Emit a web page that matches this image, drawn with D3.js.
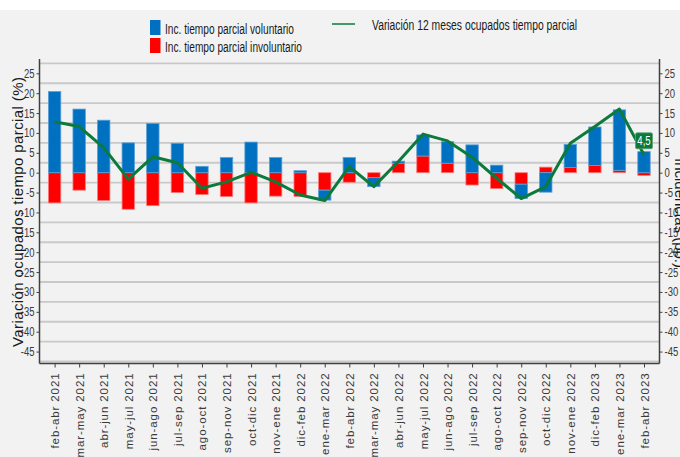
<html>
<head>
<meta charset="utf-8">
<title>Tiempo parcial</title>
<script src="https://d3js.org/d3.v7.min.js"></script>
<style>
  body { margin: 0; background: #ffffff; }
  svg { display: block; font-family: Arial, "Liberation Sans", sans-serif; }
</style>
</head>
<body>
<div id="chart"></div>
<script type="text/javascript">
// data
var categories = ["feb-abr 2021", "mar-may 2021", "abr-jun 2021", "may-jul 2021", "jun-ago 2021",
  "jul-sep 2021", "ago-oct 2021", "sep-nov 2021", "oct-dic 2021", "nov-ene 2021", "dic-feb 2022",
  "ene-mar 2022", "feb-abr 2022", "mar-may 2022", "abr-jun 2022", "may-jul 2022", "jun-ago 2022",
  "jul-sep 2022", "ago-oct 2022", "sep-nov 2022", "oct-dic 2022", "nov-ene 2022", "dic-feb 2023",
  "ene-mar 2023", "feb-abr 2023"];
var voluntario = [20.4, 16.0, 13.2, 7.5, 12.4, 7.4, 1.6, 3.8, 7.7, 3.8, 0.5, -2.5, 3.8, -2.3, 0.5,
  5.3, 5.4, 7.0, 1.9, -3.6, -4.9, 5.8, 9.7, 15.2, 5.3];
var involuntario = [-7.6, -4.4, -7.0, -9.2, -8.3, -5.0, -5.5, -6.0, -7.6, -5.9, -6.0, -4.4, -2.4, -1.2, 2.4,
  4.2, 2.4, -3.1, -4.0, -2.9, 1.4, 1.3, 1.8, 0.6, -0.7];
var variacion = [12.8, 11.6, 6.3, -1.6, 4.0, 2.5, -3.9, -2.3, 0.1, -2.3, -5.6, -7.0, 1.5, -3.5, 2.8,
  9.7, 8.0, 3.9, -1.4, -6.5, -3.5, 7.4, 11.6, 16.0, 4.5];
var yTicks = [25, 20, 15, 10, 5, 0, -5, -10, -15, -20, -25, -30, -35, -40, -45];
var gridValues = [27.5, 22.5, 17.5, 12.5, 7.5, 2.5, -2.5, -7.5, -12.5, -17.5, -22.5, -27.5, -32.5, -37.5, -42.5, -47.5];
var lastLabel = "4,5";

var width = 680, height = 457;
var plot = {left: 39.5, right: 659.5, top: 59, bottom: 363.5};
var blue = "#0070c0", red = "#ff0000", green = "#0c7a3a";

var svg = d3.select("#chart").append("svg")
  .attr("width", width)
  .attr("height", height);

// grey background under the white top strip
svg.append("rect").attr("x", 0).attr("y", 10).attr("width", width).attr("height", height - 10)
  .attr("fill", "#f2f2f2");

var x = d3.scalePoint().domain(categories).range([54.6, 644]);
var y = d3.scaleLinear().domain([-48, 28.6]).range([plot.bottom, plot.top]);
var barW = 12.4;

// squeeze text to look like the narrow font of the original
function squeeze(sel, f) {
  sel.each(function() {
    var len = this.getComputedTextLength();
    d3.select(this).attr("textLength", len * f).attr("lengthAdjust", "spacingAndGlyphs");
  });
}

// gridlines (they sit between the ticks in the original)
svg.append("g").selectAll("line")
  .data(gridValues)
  .enter().append("line")
  .attr("x1", plot.left).attr("x2", plot.right)
  .attr("y1", function(d) { return y(d); })
  .attr("y2", function(d) { return y(d); })
  .attr("stroke", "#c9c9c9")
  .attr("stroke-width", 1.8);

// stacked bars
var table = categories.map(function(c, i) {
  return {cat: c, inv: involuntario[i], vol: voluntario[i]};
});
var stack = d3.stack().keys(["inv", "vol"]).offset(d3.stackOffsetDiverging);
var series = stack(table);
var colors = {inv: red, vol: blue};
var strokes = {inv: "#ff7a7a", vol: "#5a9fd8"};

svg.append("g").selectAll("g")
  .data(series)
  .enter().append("g")
  .attr("fill", function(d) { return colors[d.key]; })
  .attr("stroke", function(d) { return strokes[d.key]; })
  .attr("stroke-width", 0.8)
  .selectAll("rect")
  .data(function(d) { return d; })
  .enter().append("rect")
  .attr("x", function(d) { return x(d.data.cat) - barW / 2; })
  .attr("width", barW)
  .attr("y", function(d) { return y(Math.max(d[0], d[1])); })
  .attr("height", function(d) { return Math.abs(y(d[0]) - y(d[1])); });

// line
var line = d3.line()
  .x(function(d, i) { return x(categories[i]); })
  .y(function(d) { return y(d); });

svg.append("path")
  .datum(variacion)
  .attr("fill", "none")
  .attr("stroke", green)
  .attr("stroke-width", 3)
  .attr("stroke-linejoin", "round")
  .attr("d", line);

// label on last point
var lx = x(categories[categories.length - 1]);
var ly = y(variacion[variacion.length - 1]);
svg.append("rect")
  .attr("x", lx - 8.5).attr("y", ly - 22)
  .attr("width", 17).attr("height", 16)
  .attr("rx", 1.5)
  .attr("fill", green)
  .attr("stroke", "#5fa37a").attr("stroke-width", 0.8);
svg.append("text")
  .attr("x", lx).attr("y", ly - 14)
  .attr("dy", "0.36em")
  .attr("text-anchor", "middle")
  .attr("fill", "#ffffff")
  .style("font-size", "12px")
  .text(lastLabel)
  .call(squeeze, 0.8);

// axes
var yLeft = svg.append("g")
  .attr("transform", "translate(" + plot.left + ",0)")
  .call(d3.axisLeft(y).tickValues(yTicks).tickSize(3).tickPadding(2).tickFormat(function(d) { return String(d); }));
var yRight = svg.append("g")
  .attr("transform", "translate(" + plot.right + ",0)")
  .call(d3.axisRight(y).tickValues(yTicks).tickSize(3).tickPadding(2).tickFormat(function(d) { return String(d); }));
var xAxis = svg.append("g")
  .attr("transform", "translate(0," + plot.bottom + ")")
  .call(d3.axisBottom(x).tickSize(4).tickSizeOuter(0));

[yLeft, yRight, xAxis].forEach(function(a) {
  a.select(".domain").attr("stroke", "#404040").attr("stroke-width", 1.5);
  a.selectAll(".tick line").attr("stroke", "#404040");
  a.selectAll("text").attr("fill", "#3a3a3a").style("font-family", "Arial, 'Liberation Sans', sans-serif");
});
yLeft.select(".domain").attr("d", "M0," + plot.top + "V" + plot.bottom);
yRight.select(".domain").attr("d", "M0," + plot.top + "V" + plot.bottom);
xAxis.select(".domain").attr("d", "M" + plot.left + ",0H" + plot.right);

yLeft.selectAll("text").style("font-size", "12.5px").call(squeeze, 0.76);
yRight.selectAll("text").style("font-size", "12.5px").call(squeeze, 0.76);

xAxis.selectAll("text")
  .style("font-size", "11.5px")
  .style("letter-spacing", "0.9px")
  .attr("transform", "rotate(-90)")
  .attr("x", -9)
  .attr("y", 0)
  .attr("dy", "0.35em")
  .style("text-anchor", "end");

// axis titles
svg.append("text")
  .attr("transform", "translate(23,212) rotate(-90)")
  .attr("text-anchor", "middle")
  .attr("fill", "#1a1a1a")
  .style("font-size", "15px")
  .attr("textLength", 270)
  .attr("lengthAdjust", "spacing")
  .text("Variación ocupados tiempo parcial (%)");

// right title is cut by the page edge in the original too
svg.append("text")
  .attr("transform", "translate(675,213) rotate(90)")
  .attr("text-anchor", "middle")
  .attr("fill", "#1a1a1a")
  .style("font-size", "15px")
  .text("Incidencias (pp.)");

// legend
var legend = svg.append("g");
legend.append("rect").attr("x", 150).attr("y", 20).attr("width", 10.5).attr("height", 15).attr("fill", blue);
legend.append("rect").attr("x", 150).attr("y", 38).attr("width", 10.5).attr("height", 15).attr("fill", red);
legend.append("line").attr("x1", 332).attr("x2", 355).attr("y1", 24).attr("y2", 24)
  .attr("stroke", green).attr("stroke-width", 1.5);

var legendItems = [
  {text: "Inc. tiempo parcial voluntario", x: 165, y: 28.5, len: 129},
  {text: "Inc. tiempo parcial involuntario", x: 165, y: 46, len: 137},
  {text: "Variación 12 meses ocupados tiempo parcial", x: 372, y: 24, len: 205}
];
legend.selectAll("text")
  .data(legendItems)
  .enter().append("text")
  .attr("x", function(d) { return d.x; })
  .attr("y", function(d) { return d.y; })
  .attr("dy", "0.36em")
  .attr("fill", "#1a1a1a")
  .style("font-size", "15.5px")
  .attr("textLength", function(d) { return d.len; })
  .attr("lengthAdjust", "spacingAndGlyphs")
  .text(function(d) { return d.text; });
</script>
</body>
</html>
